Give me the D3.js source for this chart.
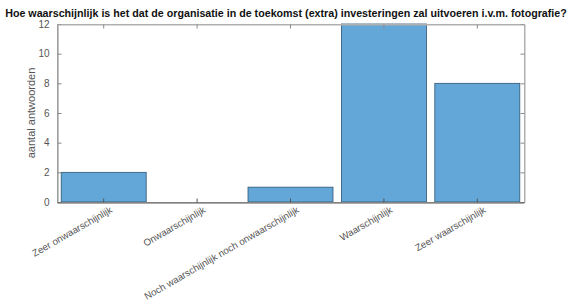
<!DOCTYPE html>
<html>
<head>
<meta charset="utf-8">
<script src="https://cdn.jsdelivr.net/npm/d3@7"></script>
<style>
  body { margin: 0; background: #fff; }
  text { font-family: Arial, "Liberation Sans", sans-serif; }
</style>
</head>
<body>
<script>
const categories = ["Zeer onwaarschijnlijk", "Onwaarschijnlijk", "Noch waarschijnlijk noch onwaarschijnlijk", "Waarschijnlijk", "Zeer waarschijnlijk"];
const counts = [2, 0, 1, 12, 8];
const yTicks = [0, 2, 4, 6, 8, 10, 12];
const title = "Hoe waarschijnlijk is het dat de organisatie in de toekomst (extra) investeringen zal uitvoeren i.v.m. fotografie?";
const yLabel = "aantal antwoorden";

const width = 574, height = 302;
const margin = { left: 57, right: 50, top: 24, bottom: 100 };

const svg = d3.select("body").append("svg")
    .attr("width", width)
    .attr("height", height);

const x = d3.scaleBand()
    .domain(categories)
    .range([margin.left, width - margin.right])
    .paddingInner(0.09)
    .paddingOuter(0.045);

const y = d3.scaleLinear()
    .domain([0, 12])
    .range([height - margin.bottom, margin.top]);

// bars
svg.selectAll("rect.bar")
    .data(counts)
    .enter().append("rect")
    .attr("class", "bar")
    .attr("x", (d, i) => x(categories[i]))
    .attr("y", d => y(d))
    .attr("width", x.bandwidth())
    .attr("height", d => y(0) - y(d))
    .attr("fill", "#62a7d7")
    .attr("stroke", "#2f5573")
    .attr("stroke-width", 0.8);

const axisColor = "#8a8a8a";
const tickLen = 4;

// box (MATLAB style)
svg.append("rect")
    .attr("x", margin.left + 0.5)
    .attr("y", margin.top + 0.5)
    .attr("width", width - margin.right - margin.left)
    .attr("height", height - margin.bottom - margin.top)
    .attr("fill", "none")
    .attr("stroke", "#b0b0b0")
    .attr("stroke-width", 1);

// y axis left, ticks inward
const yAxis = svg.append("g")
    .attr("transform", `translate(${margin.left + 0.5},0)`)
    .call(d3.axisLeft(y).tickValues(yTicks).tickSizeInner(-tickLen).tickSizeOuter(0).tickPadding(8));
yAxis.select(".domain").attr("stroke", axisColor);
yAxis.selectAll("line").attr("stroke", axisColor);
yAxis.selectAll("text").attr("fill", "#555").style("font-size", "10px");

// y ticks on right side
const yRight = svg.append("g")
    .attr("transform", `translate(${width - margin.right + 0.5},0)`)
    .call(d3.axisRight(y).tickValues(yTicks).tickSizeInner(-tickLen).tickSizeOuter(0).tickFormat(""));
yRight.select(".domain").attr("stroke", "#b0b0b0");
yRight.selectAll("line").attr("stroke", axisColor);

// x axis bottom
const xAxis = svg.append("g")
    .attr("transform", `translate(0,${height - margin.bottom + 0.5})`)
    .call(d3.axisBottom(x).tickSizeInner(-tickLen).tickSizeOuter(0).tickPadding(5));
xAxis.select(".domain").attr("stroke", "#555");
xAxis.selectAll("line").attr("stroke", "#555");
xAxis.selectAll("text")
    .attr("fill", "#555")
    .style("font-size", "9.7px")
    .attr("text-anchor", "end")
    .attr("dy", "0.35em")
    .attr("transform", "translate(5,2) rotate(-30)");

// x ticks on top
const xTop = svg.append("g")
    .attr("transform", `translate(0,${margin.top + 0.5})`)
    .call(d3.axisTop(x).tickSizeInner(-tickLen).tickSizeOuter(0).tickFormat(""));
xTop.select(".domain").attr("stroke", "#b0b0b0");
xTop.selectAll("line").attr("stroke", axisColor);

// y label
svg.append("text")
    .attr("transform", `translate(35,${(margin.top + height - margin.bottom) / 2}) rotate(-90)`)
    .attr("text-anchor", "middle")
    .attr("fill", "#555")
    .style("font-size", "11px")
    .text(yLabel);

// title
svg.append("text")
    .attr("x", 286)
    .attr("y", 17)
    .attr("text-anchor", "middle")
    .attr("fill", "#111")
    .style("font-size", "10.7px")
    .style("font-weight", "bold")
    .text(title);
</script>
</body>
</html>
